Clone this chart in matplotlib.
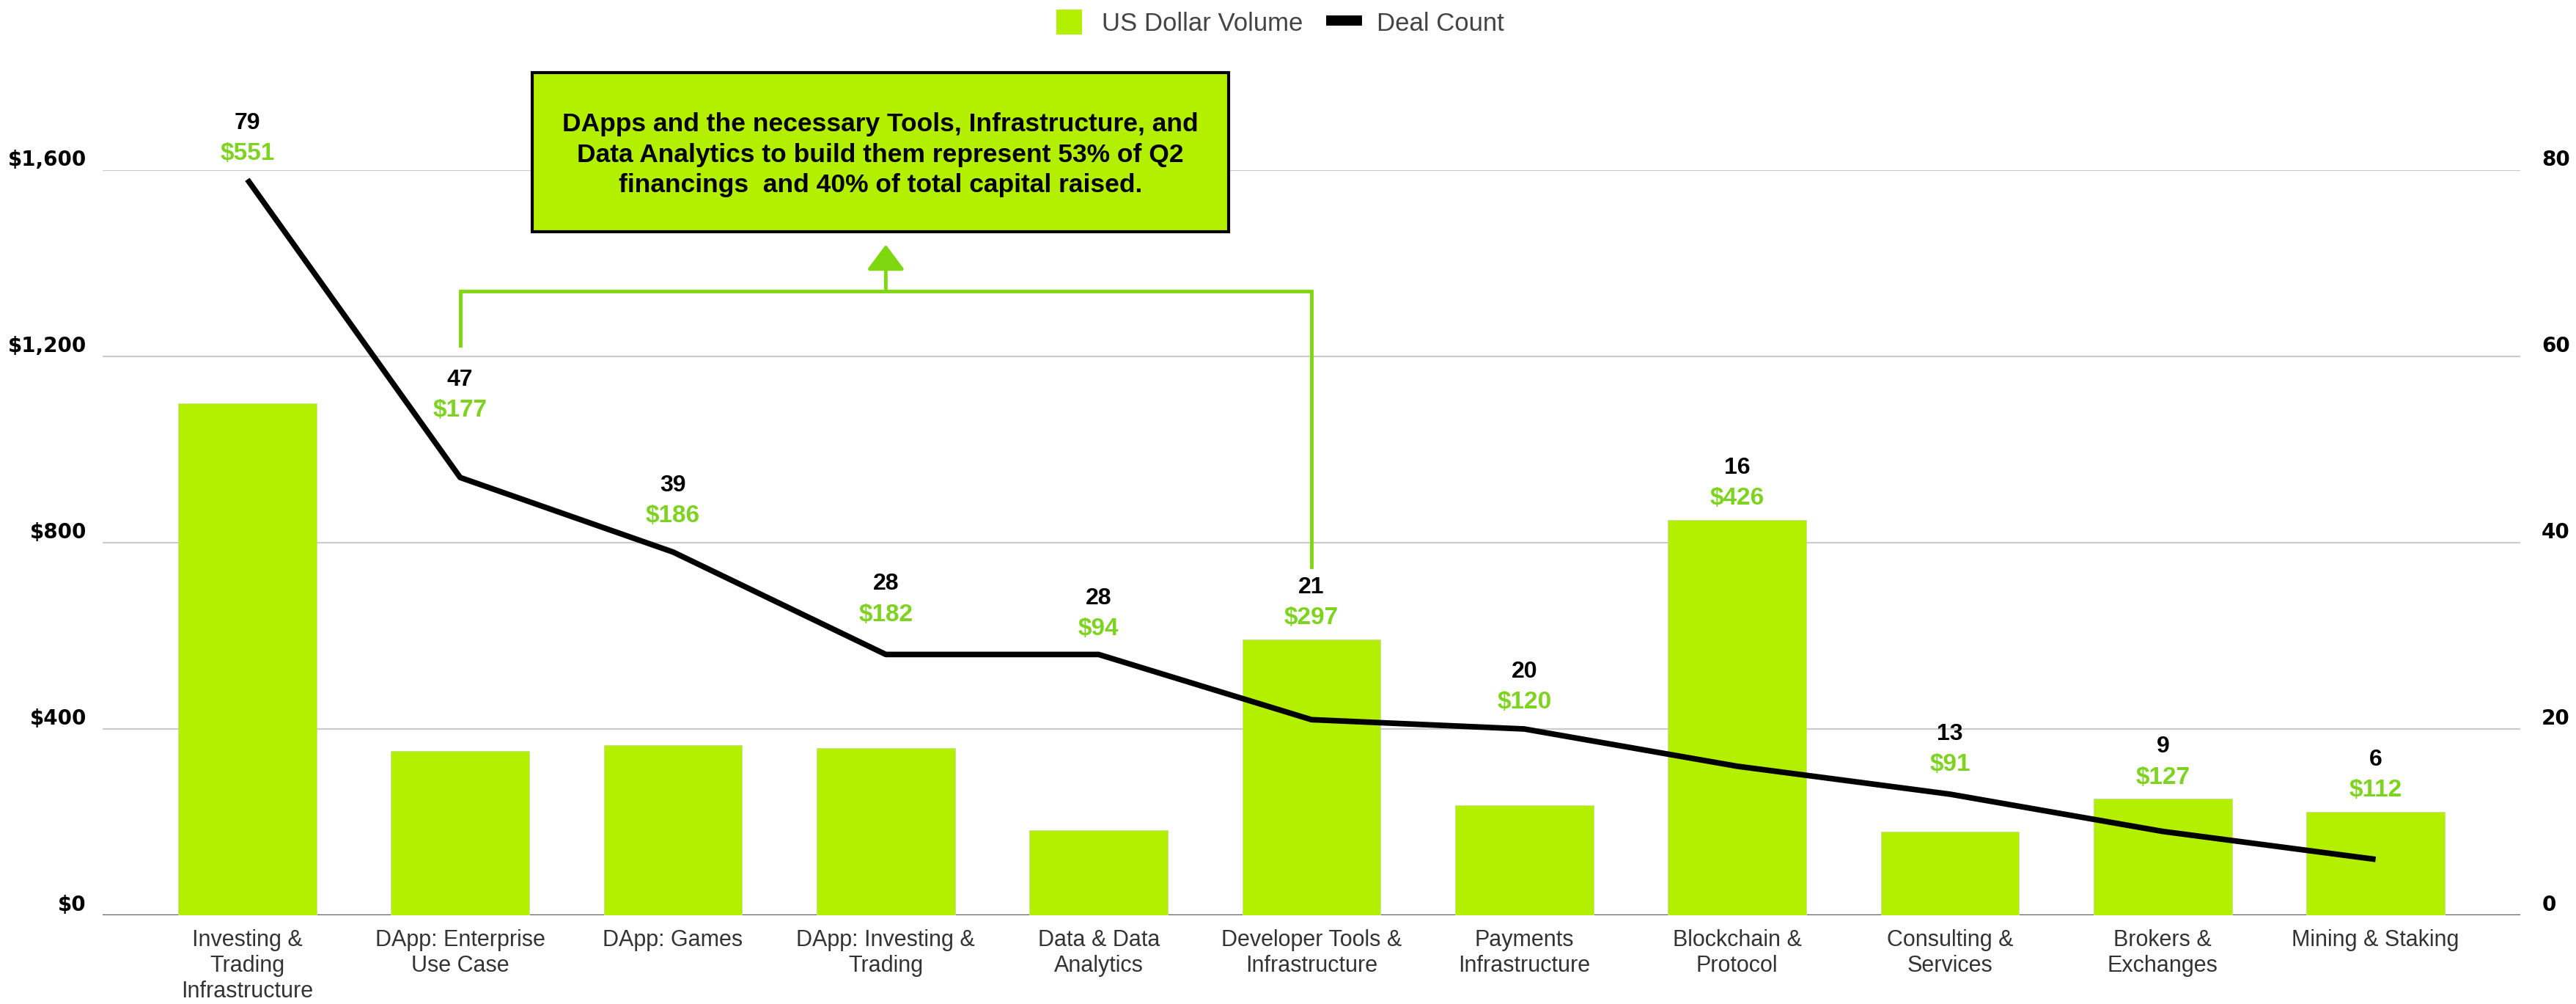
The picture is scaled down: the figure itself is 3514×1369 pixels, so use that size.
import matplotlib
matplotlib.use("Agg")
import matplotlib.pyplot as plt
from matplotlib.patches import Patch, Rectangle
from matplotlib.lines import Line2D
from matplotlib.ticker import FuncFormatter
import numpy as np

# ---------------- data ----------------
categories = ["Investing &\nTrading\nInfrastructure", "DApp: Enterprise\nUse Case", "DApp: Games",
              "DApp: Investing &\nTrading", "Data & Data\nAnalytics", "Developer Tools &\nInfrastructure",
              "Payments\nInfrastructure", "Blockchain &\nProtocol", "Consulting &\nServices",
              "Brokers &\nExchanges", "Mining & Staking"]
usd_bar_heights = [1100, 352, 366, 359, 183, 592, 236, 849, 180, 250, 222]   # as read on left axis
usd_labels = [551, 177, 186, 182, 94, 297, 120, 426, 91, 127, 112]            # printed labels
deal_count = [79, 47, 39, 28, 28, 21, 20, 16, 13, 9, 6]
left_ticks = [0, 400, 800, 1200, 1600]
right_ticks = [0, 20, 40, 60, 80]
legend_labels = ["US Dollar Volume", "Deal Count"]
callout_text = ("DApps and the necessary Tools, Infrastructure, and\n"
                "Data Analytics to build them represent 53% of Q2\n"
                "financings  and 40% of total capital raised.")

BAR_GREEN = "#B3F000"
LABEL_GREEN = "#7ED321"
LINE_GREEN = "#7FD80F"

fig = plt.figure(figsize=(35.14, 13.69), dpi=100)
ax = fig.add_axes([0.03984, 0.08839, 0.93854, 0.74214])
ax2 = ax.twinx()

x = np.arange(len(categories))
ax.set_xlim(-0.68, 10.68)
ax.set_ylim(left_ticks[0], left_ticks[-1])
ax2.set_ylim(right_ticks[0], right_ticks[-1])

ax.bar(x, usd_bar_heights, width=0.65, color=BAR_GREEN, edgecolor="#C8D8A0", linewidth=0.6, zorder=3)
ax.set_yticks(left_ticks)
ax.yaxis.set_major_formatter(FuncFormatter(lambda v, p: f"${v:,.0f}"))
ax.yaxis.grid(True, color="#CCCCCC", linewidth=1.6, zorder=0)
ax.set_axisbelow(True)
ax.axhline(0, color="#666666", linewidth=2.5, zorder=2)

ax.set_xticks(x)
ax.set_xticklabels(categories, fontsize=22, color="#333333", family="Liberation Sans", linespacing=1.2)
ax.tick_params(axis="x", length=0, pad=14)
ax.tick_params(axis="y", length=0, pad=16)
for lbl in ax.get_yticklabels():
    lbl.set_fontsize(20)
    lbl.set_fontweight("bold")
    lbl.set_family("DejaVu Sans")
    lbl.set_verticalalignment("bottom")

ax2.plot(x, deal_count, color="black", linewidth=5.5, solid_joinstyle="round", solid_capstyle="butt", zorder=4)
ax2.set_yticks(right_ticks)
ax2.tick_params(axis="y", length=0, pad=21)
for lbl in ax2.get_yticklabels():
    lbl.set_fontsize(20)
    lbl.set_fontweight("bold")
    lbl.set_family("DejaVu Sans")
    lbl.set_verticalalignment("bottom")

for a in (ax, ax2):
    for s in a.spines.values():
        s.set_visible(False)

# ------------- data labels -------------
w = 0.14
for i in range(len(x)):
    bar_top_ax2 = ax2.transData.inverted().transform(ax.transData.transform((x[i], usd_bar_heights[i])))[1]
    local_line = max(np.interp([x[i] - w, x[i], x[i] + w], x, deal_count))
    anchor = max(bar_top_ax2, local_line)
    extra = 4 if local_line > bar_top_ax2 else 0
    ax2.annotate(f"${usd_labels[i]}", xy=(x[i], anchor), xytext=(0, 21 + extra), textcoords="offset points",
                 ha="center", va="center", fontsize=24, fontweight="bold", color=LABEL_GREEN,
                 family="Liberation Sans", annotation_clip=False, zorder=6)
    ax2.annotate(f"{deal_count[i]}", xy=(x[i], anchor), xytext=(0, 51 + extra), textcoords="offset points",
                 ha="center", va="center", fontsize=23, fontweight="bold", color="black",
                 family="Liberation Sans", annotation_clip=False, zorder=6)

# ------------- callout -------------
ax.plot([1, 1, 5, 5], [1224, 1340, 1340, 748], color=LINE_GREEN, linewidth=3.5,
        clip_on=False, zorder=5, solid_joinstyle="miter")
ax.annotate("", xy=(3, 1440), xytext=(3, 1340),
            arrowprops=dict(arrowstyle="-|>,head_length=0.6,head_width=0.45", color=LINE_GREEN,
                            lw=3.5, mutation_scale=35, shrinkA=0, shrinkB=0),
            annotation_clip=False)
box = Rectangle((1.34, 1468), 4.61 - 1.34, 1809 - 1468, facecolor=BAR_GREEN, edgecolor="black",
                linewidth=3, clip_on=False, zorder=5)
ax.add_patch(box)
ax.text(2.975, 1633, callout_text, ha="center", va="center", fontsize=25.5, fontweight="bold",
        family="Liberation Sans", color="black", linespacing=1.31, zorder=6, clip_on=False)

# ------------- legend -------------
handles = [Patch(facecolor=BAR_GREEN, edgecolor="none", label=legend_labels[0]),
           Line2D([0], [0], color="black", linewidth=10, label=legend_labels[1])]
fig.legend(handles=handles, loc="upper center", bbox_to_anchor=(0.497, 1.013), ncol=2, frameon=False,
           prop={"family": "Liberation Sans", "size": 25}, labelcolor="#444444",
           handlelength=1.0, handleheight=1.1, handletextpad=0.8, columnspacing=1.1)

fig.savefig("out.png", dpi=100, facecolor="white")
